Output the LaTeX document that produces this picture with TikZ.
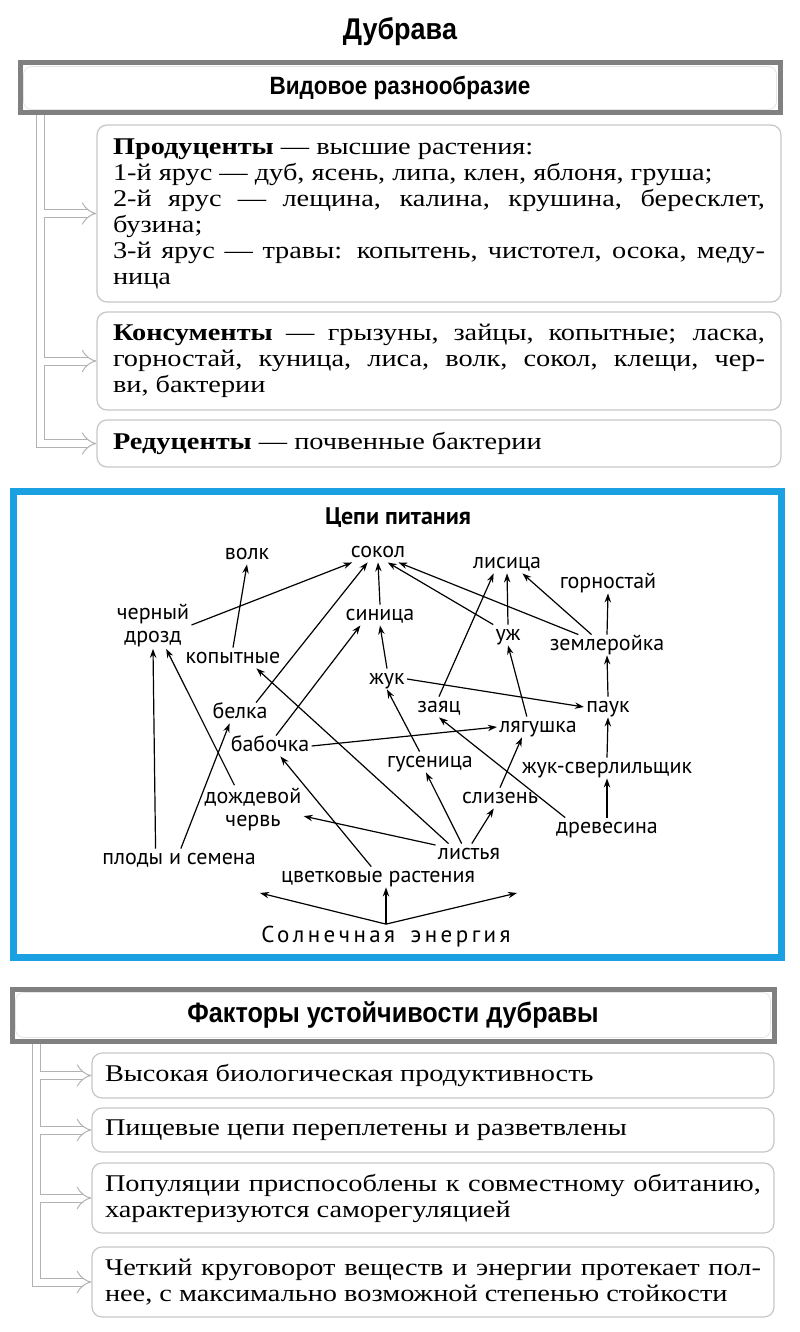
\documentclass[tikz,border=0pt]{standalone}
\usepackage{fontspec}
\setmainfont[FakeStretch=1.18]{Liberation Serif}
\newfontfamily\headfont[FakeStretch=0.9]{Liberation Sans}
\newfontfamily\webfont{PT Sans}
\newfontfamily\sunfont[LetterSpace=15]{PT Sans}
\usepackage{tikz}
\usetikzlibrary{arrows.meta}
\definecolor{webblue}{RGB}{27,161,226}

\begin{document}
\begin{tikzpicture}[
  x=0.5pt, y=-0.5pt,
  >={Stealth[length=4.5pt,width=3.2pt]},
  head/.style={draw=gray, line width=2.5pt, inner sep=0pt},
  card/.style={draw=gray!45, line width=0.6pt, rounded corners=5pt,
               align=justify, inner ysep=2pt,
               font=\fontsize{12}{13}\selectfont},
  hollow/.style={draw=gray!60, line width=0.5pt, double distance=3.5pt},
  sp/.style={font=\webfont\fontsize{11}{11.5}\selectfont, inner sep=1pt,
             text height=1.5ex, text depth=.25ex},
  sp2/.style={font=\webfont\fontsize{11}{11.5}\selectfont, inner sep=1pt,
              align=center},
  arr/.style={->, line width=0.6pt},
]
  \useasboundingbox (0,0) rectangle (799,1332);

  % Видовое разнообразие
  \node[font=\headfont\bfseries\fontsize{15}{18}\selectfont] (title) at (400,32) {Дубрава};
  \node[head, minimum width=380pt, minimum height=25pt,
        font=\headfont\bfseries\fontsize{12.5}{15}\selectfont] (hdrA) at (400,88)
    {Видовое разнообразие};
  \draw[gray!20, rounded corners=4pt] ([xshift=3pt,yshift=-3pt]hdrA.north west)
    rectangle ([xshift=-3pt,yshift=3pt]hdrA.south east);

  \node[card, text width=326pt, inner xsep=8pt, minimum height=88.5pt] (prod) at (439,213.5)
    {\textbf{Продуценты} — высшие растения:\\
     1-й ярус — дуб, ясень, липа, клен, яблоня, груша;\\
     2-й ярус — лещина, калина, крушина, бересклет,\linebreak
     бузина;\\
     3-й ярус — травы: копытень, чистотел, осока, меду-\linebreak
     ница};
  \node[card, text width=326pt, inner xsep=8pt, minimum height=49pt] (cons) at (439,361)
    {\textbf{Консументы} — грызуны, зайцы, копытные; ласка,\linebreak
     горностай, куница, лиса, волк, сокол, клещи, чер-\linebreak
     ви, бактерии};
  \node[card, text width=326pt, inner xsep=8pt, minimum height=23.5pt] (redu) at (439,443.5)
    {\textbf{Редуценты} — почвенные бактерии};

  \coordinate (trunkA) at (40,0);
  \draw[hollow] (hdrA.south -| trunkA) |- ([xshift=-12pt]prod.west)
                (hdrA.south -| trunkA) |- ([xshift=-12pt]cons.west)
                (hdrA.south -| trunkA) |- ([xshift=-12pt]redu.west);
  \foreach \b in {prod,cons,redu}
    \draw[hollow, -{Implies[scale=1.7]}] ([xshift=-16pt]\b.west) -- (\b.west);

  % Цепи питания
  \node[draw=webblue, line width=3.5pt, minimum width=384pt, minimum height=233pt] (web)
    at (397,724) {};
  \node[font=\webfont\bfseries\fontsize{12}{14}\selectfont] (webtitle) at (398,518)
    {Цепи питания};

  \foreach \n/\x/\y/\t in {
    sokol/378/552/сокол, volk/247/554/волк, lisica/507/563/лисица,
    gorn/608/583/горностай, sinica/380/615/синица, uzh/508/635/уж,
    zemler/607/645/землеройка, kopyt/233/658/копытные, zhuk/387/679/жук,
    zayac/439/707/заяц, pauk/608/707/паук, belka/240/713/белка,
    lyag/538/727/лягушка, babochka/270/746/бабочка, gusen/430/762/гусеница,
    zhuksv/607/768/жук-сверлильщик, slizen/500/798/слизень,
    drev/607/828/древесина, plody/179/859/плоды и семена,
    listya/469/854/листья, cvetk/378/877/цветковые растения}
    \node[sp] (\n) at (\x,\y) {\t};
  \node[sp2] (drozd) at (153,625) {черный\\дрозд};
  \node[sp2] (cherv) at (253,809) {дождевой\\червь};
  \node[font=\sunfont\fontsize{11.5}{13}\selectfont, inner sep=1pt] (sun) at (386,937)
    {Солнечная\hspace{3pt} энергия};
  \coordinate (sunL) at (260,893);
  \coordinate (sunR) at (517,893);

  \foreach \a/\b in {
    drozd.east/sokol.202, kopyt.north/volk.south, belka.33/sokol.225,
    sinica.north/sokol.south, uzh.north west/sokol.-47, zemler.160/sokol.-27,
    zemler.146/lisica.-34, uzh.north/lisica.south, zayac.north/lisica.218,
    zemler.north/gorn.south, pauk.north/zemler.south, zhuksv.north/pauk.south,
    drev.north/zhuksv.south, drev.166/zayac.south, zhuk.east/pauk.west,
    gusen.135/zhuk.south, zhuk.north/sinica.south, babochka.60/sinica.208,
    babochka.east/lyag.west, slizen.north/lyag.213, lyag.137/uzh.south,
    listya.75/slizen.239, listya.125/gusen.249, listya.153/kopyt.-24,
    listya.165/cherv.-8, cherv.128/drozd.-61, plody.156/drozd.south,
    plody.80/belka.225, cvetk.123/babochka.-45}
    \draw[arr] (\a) -- (\b);
  \draw[arr] (sun.north) -- (sun.north |- cvetk.south);
  \draw[arr] (sun.north) -- (sunL);
  \draw[arr] (sun.north) -- (sunR);

  % Факторы устойчивости
  \node[head, minimum width=381pt, minimum height=26pt,
        font=\headfont\bfseries\fontsize{14}{17}\selectfont] (hdrB) at (393,1015)
    {Факторы устойчивости дубравы};
  \draw[gray!20, rounded corners=4pt] ([xshift=3pt,yshift=-3pt]hdrB.north west)
    rectangle ([xshift=-3pt,yshift=3pt]hdrB.south east);

  \node[card, text width=328pt, inner xsep=6.5pt, minimum height=22.5pt] (f1) at (433,1075.5)
    {Высокая биологическая продуктивность};
  \node[card, text width=328pt, inner xsep=6.5pt, minimum height=22pt] (f2) at (433,1130)
    {Пищевые цепи переплетены и разветвлены};
  \node[card, text width=328pt, inner xsep=6.5pt, minimum height=35pt] (f3) at (433,1198)
    {Популяции приспособлены к совместному обитанию,\linebreak
     характеризуются саморегуляцией};
  \node[card, text width=328pt, inner xsep=6.5pt, minimum height=35pt] (f4) at (433,1282)
    {Четкий круговорот веществ и энергии протекает пол-\linebreak
     нее, с максимально возможной степенью стойкости};

  \coordinate (trunkB) at (36,0);
  \draw[hollow] (hdrB.south -| trunkB) |- ([xshift=-12pt]f1.west)
                (hdrB.south -| trunkB) |- ([xshift=-12pt]f2.west)
                (hdrB.south -| trunkB) |- ([xshift=-12pt]f3.west)
                (hdrB.south -| trunkB) |- ([xshift=-12pt]f4.west);
  \foreach \b in {f1,f2,f3,f4}
    \draw[hollow, -{Implies[scale=1.7]}] ([xshift=-16pt]\b.west) -- (\b.west);
\end{tikzpicture}
\end{document}
